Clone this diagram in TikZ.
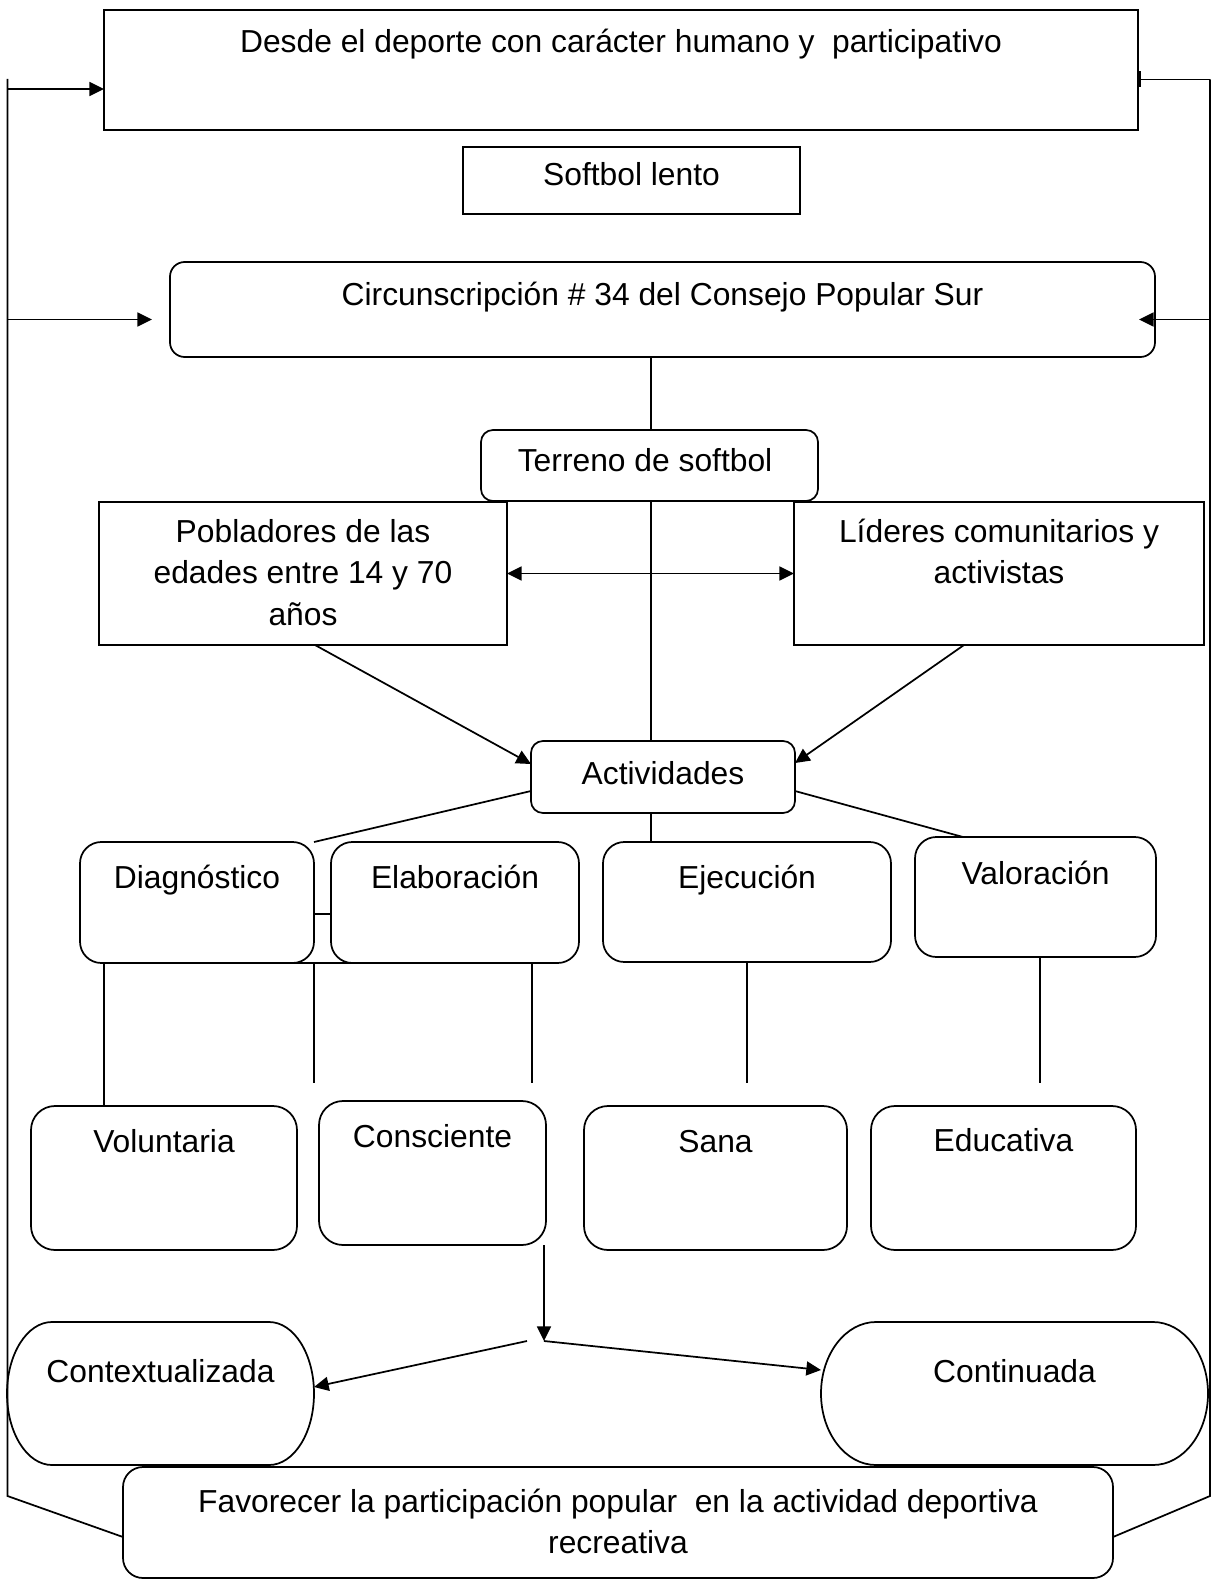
\documentclass[tikz,border=0pt]{standalone}
\usepackage{fontspec}
\setmainfont{Liberation Sans}
\usetikzlibrary{arrows.meta,calc}

\newlength\pix
\setlength\pix{0.75pt}
% box text: width, height, baseline of first line, text
\newcommand{\cajatexto}[4]{\parbox[c][#2\pix][t]{#1\pix}{\centering\rule{0pt}{#3\pix}#4}}

\tikzset{
  caja/.style={draw, line width=1.3pt, inner sep=0pt, outer sep=0pt, font=\fontsize{23.85pt}{31pt}\selectfont},
  redonda/.style={caja, rounded corners=#1},
  sinborde/.style={caja, draw=none},
  linea/.style={line width=1.3pt},
  flecha/.style={linea, -{Triangle[length=11pt,width=10.5pt]}},
  doble/.style={linea, {Triangle[length=11pt,width=10.5pt]}-{Triangle[length=11pt,width=10.5pt]}},
}

\begin{document}
\begin{tikzpicture}[x=0.75pt,y=0.75pt,yscale=-1,xscale=1]
\useasboundingbox (0,0) rectangle (1213,1580);

% Rectangles
\node[caja] (titulo) at (621,70) {\cajatexto{1034}{120}{42.4}{Desde el deporte con carácter humano y~ participativo}};
\node[caja] (softbol) at (631.5,180.5) {\cajatexto{337}{67}{38.4}{Softbol lento}};
\node[redonda=11pt] (circ) at (662.5,309.5) {\cajatexto{985}{95}{43.4}{Circunscripción \# 34 del Consejo Popular Sur}};
\node[redonda=9pt] (terreno) at (649.5,465.5) {\cajatexto{337}{71}{41.4}{Terreno de softbol~~}};
\node[caja] (pobla) at (303,573.5) {\cajatexto{408}{143}{40.4}{Pobladores de las\\edades entre 14 y 70\\años}};
\node[caja] (lideres) at (999,573.5) {\cajatexto{410}{143}{40.4}{Líderes comunitarios y\\activistas}};
\node[redonda=9pt] (activ) at (663,777) {\cajatexto{264}{72}{43.4}{Actividades}};

% Rounded Rect, stages
\node[redonda=16pt] (diag) at (197,902.5) {\cajatexto{234}{121}{46.4}{Diagnóstico}};
\node[redonda=16pt] (elab) at (455,902.5) {\cajatexto{248}{121}{46.4}{Elaboración}};
\node[redonda=16pt] (ejec) at (747,902) {\cajatexto{288}{120}{46.4}{Ejecución}};
\node[redonda=16pt] (valor) at (1035.5,897) {\cajatexto{241}{120}{47.4}{Valoración}};

% Rounded Rect, features
\node[redonda=18pt] (volun) at (164,1178) {\cajatexto{266}{144}{46.4}{Voluntaria}};
\node[redonda=18pt] (consc) at (432.5,1173) {\cajatexto{227}{144}{46.4}{Consciente}};
\node[redonda=18pt] (sana) at (715.5,1178) {\cajatexto{263}{144}{46.4}{Sana}};
\node[redonda=18pt] (educ) at (1003.5,1178) {\cajatexto{265}{144}{45.4}{Educativa}};

% Stadium shapes
\node[sinborde] (contex) at (160.5,1393.5) {\cajatexto{307}{143}{60.4}{Contextualizada}};
\node[sinborde] (contin) at (1014.5,1393.5) {\cajatexto{387}{143}{60.4}{Continuada}};
\draw[linea, line join=round] (contex.west) arc[start angle=180, end angle=270, x radius=45, y radius=71.5] -- ($(contex.north east)+(-45,0)$) arc[start angle=-90, end angle=90, x radius=45, y radius=71.5] -- ($(contex.south west)+(45,0)$) arc[start angle=90, end angle=180, x radius=45, y radius=71.5] -- cycle;
\draw[linea, line join=round] (contin.west) arc[start angle=180, end angle=270, x radius=55, y radius=71.5] -- ($(contin.north east)+(-55,0)$) arc[start angle=-90, end angle=90, x radius=55, y radius=71.5] -- ($(contin.south west)+(55,0)$) arc[start angle=90, end angle=180, x radius=55, y radius=71.5] -- cycle;

\node[redonda=15pt] (favor) at (618,1522.5) {\cajatexto{990}{111}{45.4}{Favorecer la participación popular~ en la actividad deportiva\\recreativa}};

% Frame lines
\coordinate (izqA) at (7.5,79);
\coordinate (izqB) at (7.5,1496);
\coordinate (derA) at (1210,79.5);
\coordinate (derB) at (1210,1496);
\coordinate (pie) at (0,1537);
\draw[linea] (izqA) -- (izqB) -- (pie -| favor.west);
\draw[linea] (derA) -- (derB) -- (pie -| favor.east);

\coordinate (fl1) at (7.5,89);
\coordinate (fl2) at (7.5,319.5);
\coordinate (fl3) at (1210,319.5);
\draw[flecha] (fl1) -- (fl1 -| titulo.west);
\draw[linea, -{Bar[width=12pt,line width=2.4pt]}] (derA) -- (derA -| titulo.east);
\draw[flecha, shorten >=13.5pt] (fl2) -- (fl2 -| circ.west);
\draw[flecha, shorten >=-12pt] (fl3) -- (fl3 -| circ.east);

% Straight Lines, spine
\coordinate (eje) at (651,0);
\draw[linea] (eje |- circ.south) -- (eje |- terreno.north);
\draw[linea] (eje |- terreno.south) -- (eje |- activ.north);
\draw[linea] (eje |- activ.south) -- (eje |- ejec.north);

\draw[doble] (pobla.east) -- (lideres.west);
\draw[flecha] ($(pobla.south)+(12,0)$) -- ($(activ.west)+(0,-13)$);
\draw[flecha] ($(lideres.south)+(-35,0)$) -- ($(activ.east)+(0,-14)$);
\draw[linea] ($(activ.west)+(0,14)$) -- (diag.north east);
\draw[linea] ($(activ.east)+(0,14)$) -- ($(valor.north)+(-72.5,0)$);

\draw[linea] ($(diag.east)+(0,11.5)$) -- ($(elab.west)+(0,11.5)$);
\draw[linea] ($(diag.south east)+(-24,0)$) -- ($(elab.south)+(2,0)$);

% Straight Lines, stages to features
\coordinate (v1) at (104,0);
\coordinate (v2) at (314,0);
\coordinate (v3) at (532,0);
\coordinate (v4) at (747,0);
\coordinate (v5) at (1040,0);
\draw[linea] (v1 |- diag.south) -- (v1 |- volun.north);
\draw[linea, shorten >=13.5pt] (v2 |- diag.south) -- (v2 |- consc.north);
\draw[linea, shorten >=13.5pt] (v3 |- elab.south) -- (v3 |- consc.north);
\draw[linea, shorten >=17.25pt] (v4 |- ejec.south) -- (v4 |- sana.north);
\draw[linea, shorten >=17.25pt] (v5 |- valor.south) -- (v5 |- educ.north);

% Arrows to the stadium shapes
\coordinate (v6) at (544,0);
\coordinate (nudo) at (544,1341);
\coordinate (nudoI) at (527,1341);
\draw[flecha] (v6 |- consc.south) -- (nudo);
\draw[flecha] (nudo) -- ($(contin.west)+(0,-23.5)$);
\draw[flecha] (nudoI) -- ($(contex.east)+(0,-6.5)$);

\end{tikzpicture}
\end{document}
